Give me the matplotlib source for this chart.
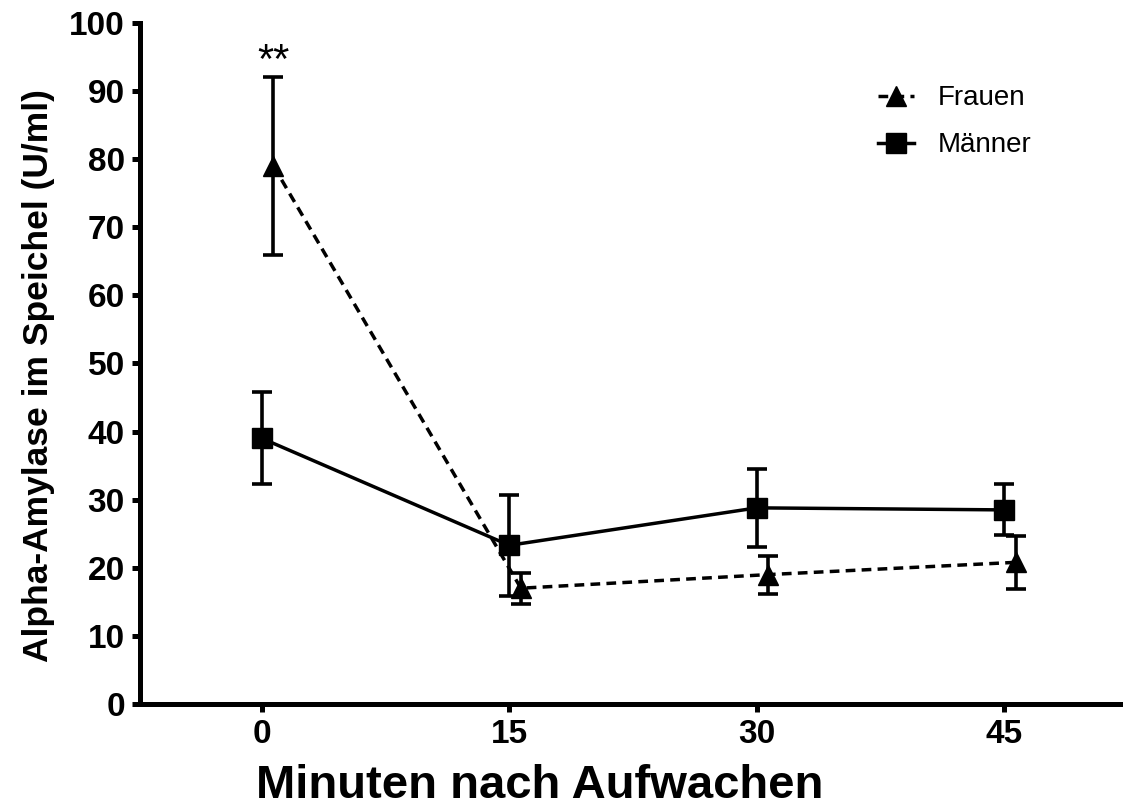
import numpy as np
import matplotlib
matplotlib.use('Agg')
import matplotlib.pyplot as plt
from matplotlib.lines import Line2D

plt.rcParams['font.family'] = ['Liberation Sans', 'DejaVu Sans']

# Daten (Mittelwert +/- Fehler)
minuten = [0, 15, 30, 45]
frauen = [79, 17, 19, 20.8]
frauen_err = [13, 2.3, 2.8, 3.85]
maenner = [39, 23.3, 28.8, 28.5]
maenner_err = [6.75, 7.4, 5.7, 3.75]
x_ticks = [0, 15, 30, 45]
y_ticks = [0, 10, 20, 30, 40, 50, 60, 70, 80, 90, 100]

frauen_shift = 0.7  # leicht versetzt wie im Original
dash = (0, (2.8, 1.8))

fig = plt.figure(figsize=(11.23, 8.10), dpi=100)
ax = fig.add_axes([0.1247, 0.1309, 0.8753, 0.8407])

xf = np.array(minuten) + frauen_shift
ax.errorbar(xf, frauen, yerr=frauen_err, color='black', marker='^', markersize=15,
            linestyle=dash, linewidth=2.5, elinewidth=2.6,
            capsize=7.5, capthick=2.6, zorder=3)
ax.errorbar(minuten, maenner, yerr=maenner_err, color='black', marker='s', markersize=15,
            linestyle='-', linewidth=2.5, elinewidth=2.6,
            capsize=7.5, capthick=2.6, zorder=3)

ax.text(frauen_shift, 94.3, '**', ha='center', va='center', fontsize=30)

ax.set_xlim(-7.39, 52.2)
ax.set_ylim(0, 100)
ax.set_xticks(x_ticks)
ax.set_yticks(y_ticks)
for s in ['top', 'right']:
    ax.spines[s].set_visible(False)
for s in ['left', 'bottom']:
    ax.spines[s].set_linewidth(3.6)
ax.tick_params(width=3.6, length=6, labelsize=24, pad=5)
for lab in ax.get_xticklabels() + ax.get_yticklabels():
    lab.set_fontweight('bold')

ax.set_xlabel('Minuten nach Aufwachen', fontsize=34, fontweight='bold')
ax.xaxis.set_label_coords(0.407, -0.088)
ax.set_ylabel('Alpha-Amylase im Speichel (U/ml)', fontsize=25.5, fontweight='bold')
ax.yaxis.set_label_coords(-0.087, 0.483)

handles = [Line2D([], [], color='black', marker='^', markersize=15, linestyle=dash, linewidth=2.5),
           Line2D([], [], color='black', marker='s', markersize=15, linestyle='-', linewidth=2.5)]
ax.legend(handles, ['Frauen', 'Männer'], loc='upper left', bbox_to_anchor=(0.725, 0.945),
          frameon=False, fontsize=20, handlelength=1.3, handletextpad=0.85, labelspacing=0.75)

fig.savefig('out.png', dpi=100)
